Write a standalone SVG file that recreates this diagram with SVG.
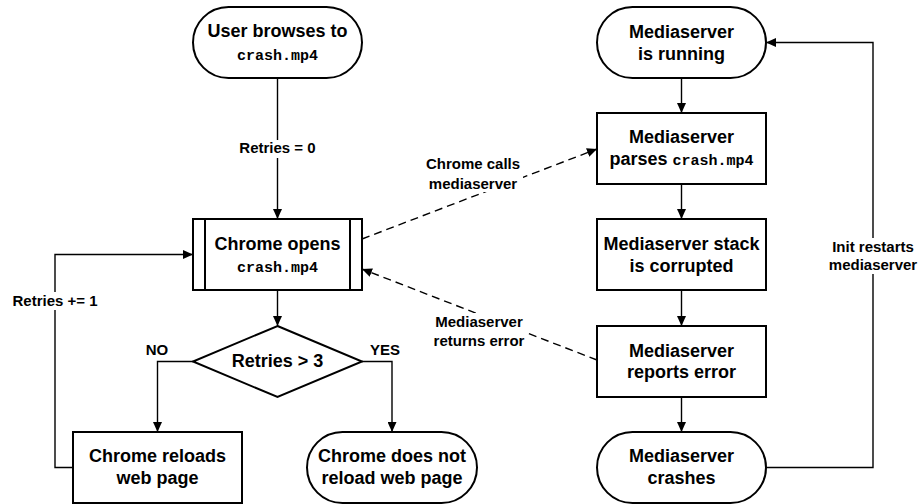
<svg xmlns="http://www.w3.org/2000/svg" width="919" height="504" viewBox="0 0 919 504">
<style>
.node{fill:#fff;stroke:#000;stroke-width:2}
.t{font-family:"Liberation Sans",Arial,sans-serif;font-weight:bold;font-size:18px;text-anchor:middle;fill:#000}
.m{font-family:"Liberation Mono","Courier New",monospace;font-weight:bold;font-size:15px}
.lbl{font-family:"Liberation Sans",Arial,sans-serif;font-weight:bold;font-size:15px;text-anchor:middle;fill:#000}
.c{fill:none;stroke:#000;stroke-width:1.4;marker-end:url(#arr)}
.cn{fill:none;stroke:#000;stroke-width:1.4}
.d{stroke-dasharray:8 5}
.bg{fill:#fff}
</style>
<defs>
<marker id="arr" markerUnits="userSpaceOnUse" markerWidth="10" markerHeight="9" refX="10" refY="4.5" orient="auto">
<path d="M0,0 L10,4.5 L0,9 z" fill="#000"/>
</marker>
</defs>
<g id="connectors">
<path class="c" d="M277.5,78 V219"/>
<rect class="bg" x="238" y="140" width="79" height="18"/>
<text class="lbl" x="277.5" y="153">Retries = 0</text>
<path class="c" d="M277.5,290 V326"/>
<path class="c" d="M193,361.5 H157.5 V432"/>
<text class="lbl" x="157" y="355">NO</text>
<path class="c" d="M362,361.5 H392 V432"/>
<text class="lbl" x="385" y="355">YES</text>
<path class="c" d="M73,467.5 H55 V254.5 H193"/>
<rect class="bg" x="11" y="292" width="88" height="18"/>
<text class="lbl" x="55" y="306">Retries += 1</text>
<path class="c" d="M681.5,78 V113"/>
<path class="c" d="M681.5,184 V219"/>
<path class="c" d="M681.5,290 V326"/>
<path class="c" d="M681.5,397 V432"/>
<path class="c" d="M766,467.5 H873 V42.5 H766"/>
<rect class="bg" x="829" y="238" width="88" height="36"/>
<text class="lbl" x="873" y="252">Init restarts</text>
<text class="lbl" x="873" y="270">mediaserver</text>
<path class="c d" d="M362,239 L597,149"/>
<rect class="bg" x="425" y="155" width="98" height="37"/>
<text class="lbl" x="473" y="169">Chrome calls</text>
<text class="lbl" x="473" y="189">mediaserver</text>
<path class="c d" d="M597,360 L362,269"/>
<rect class="bg" x="431" y="313" width="97" height="37"/>
<text class="lbl" x="479" y="327">Mediaserver</text>
<text class="lbl" x="479" y="346">returns error</text>
</g>
<g id="user-browses">
<rect class="node" x="193" y="7" width="169" height="71" rx="35.5" ry="35.5"/>
<text class="t" x="277.5" y="37">User browses to</text>
<text class="t m" x="277.5" y="60">crash.mp4</text>
</g>
<g id="chrome-opens">
<rect class="node" x="193" y="219" width="169" height="71"/>
<line class="cn" x1="205" y1="219" x2="205" y2="290" style="stroke-width:2"/>
<line class="cn" x1="350" y1="219" x2="350" y2="290" style="stroke-width:2"/>
<text class="t" x="277.5" y="250">Chrome opens</text>
<text class="t m" x="277.5" y="272">crash.mp4</text>
</g>
<g id="retries-check">
<polygon class="node" points="277.5,326 362,361.5 277.5,397 193,361.5"/>
<text class="t" x="277.5" y="367">Retries &gt; 3</text>
</g>
<g id="chrome-reloads">
<rect class="node" x="73" y="432" width="169" height="71"/>
<text class="t" x="157.5" y="462">Chrome reloads</text>
<text class="t" x="157.5" y="484">web page</text>
</g>
<g id="chrome-no-reload">
<rect class="node" x="307" y="432" width="170" height="71" rx="35.5" ry="35.5"/>
<text class="t" x="392" y="462">Chrome does not</text>
<text class="t" x="392" y="484">reload web page</text>
</g>
<g id="ms-running">
<rect class="node" x="597" y="7" width="169" height="71" rx="35.5" ry="35.5"/>
<text class="t" x="681.5" y="38">Mediaserver</text>
<text class="t" x="681.5" y="60">is running</text>
</g>
<g id="ms-parses">
<rect class="node" x="597" y="113" width="169" height="71"/>
<text class="t" x="681.5" y="143">Mediaserver</text>
<text class="t" x="681.5" y="165">parses <tspan class="m">crash.mp4</tspan></text>
</g>
<g id="ms-stack">
<rect class="node" x="597" y="219" width="169" height="71"/>
<text class="t" x="681.5" y="250">Mediaserver stack</text>
<text class="t" x="681.5" y="272">is corrupted</text>
</g>
<g id="ms-reports">
<rect class="node" x="597" y="326" width="169" height="71"/>
<text class="t" x="681.5" y="357">Mediaserver</text>
<text class="t" x="681.5" y="378">reports error</text>
</g>
<g id="ms-crashes">
<rect class="node" x="597" y="432" width="169" height="71" rx="35.5" ry="35.5"/>
<text class="t" x="681.5" y="462">Mediaserver</text>
<text class="t" x="681.5" y="484">crashes</text>
</g>
</svg>
